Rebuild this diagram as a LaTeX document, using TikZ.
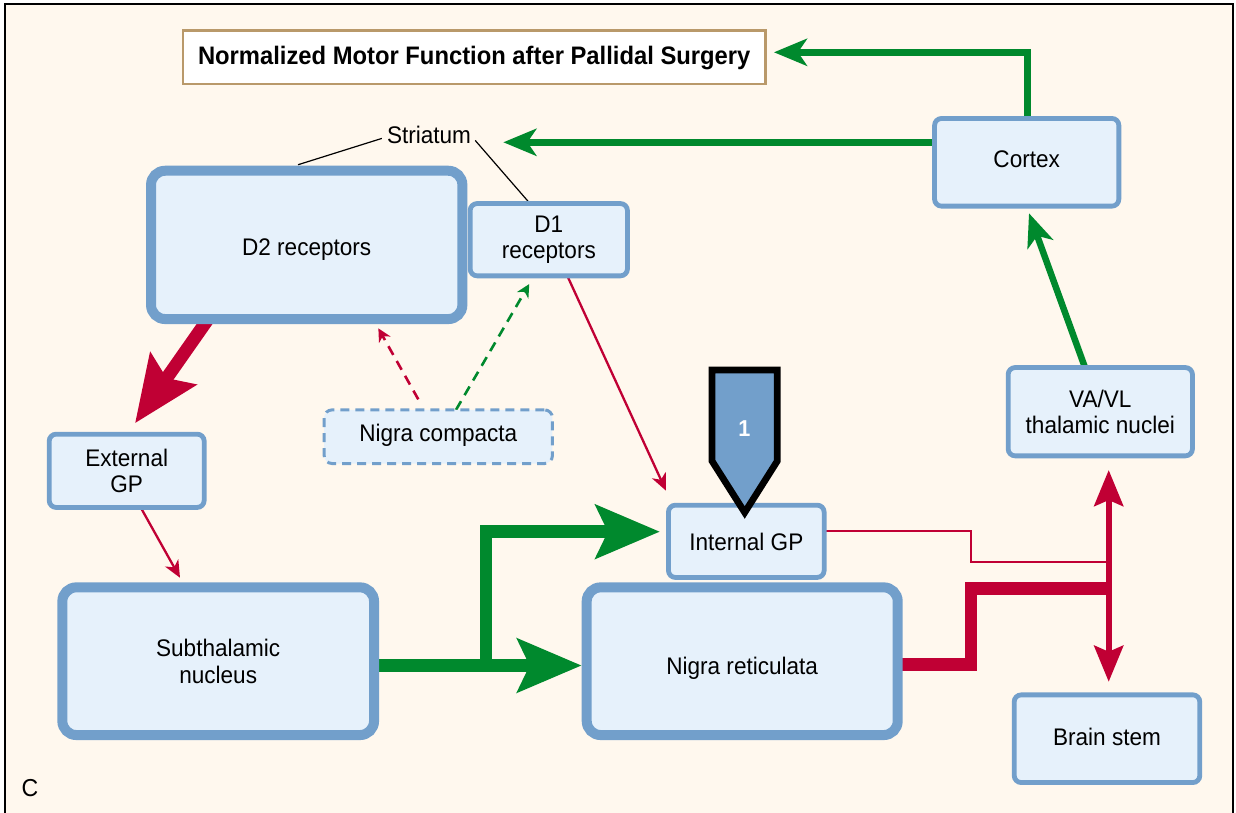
\documentclass[tikz,border=0pt]{standalone}
\usepackage{fontspec}
\setmainfont[FakeStretch=0.94]{Liberation Sans}
\usetikzlibrary{arrows.meta,calc}
\definecolor{cream}{RGB}{255,248,238}
\definecolor{boxfill}{RGB}{230,241,251}
\definecolor{boxline}{RGB}{114,159,203}
\definecolor{dgreen}{RGB}{0,137,45}
\definecolor{dred}{RGB}{192,0,52}
\definecolor{tan}{RGB}{185,153,106}
\pgfdeclarelayer{bg}
\pgfdeclarelayer{conn}
\pgfsetlayers{bg,conn,main}
\newcommand\diafont{\fontsize{24pt}{26.5pt}\selectfont}
\newcommand\ttlfont{\fontsize{25.3pt}{28pt}\selectfont\bfseries}
\tikzset{
  box/.style={draw=boxline, fill=boxfill, line width=4.8pt, rounded corners=7pt,
    outer sep=0pt, inner sep=0pt, align=center, font=\diafont},
  bigbox/.style={box, line width=10pt, rounded corners=14pt},
  dbox/.style={box, line width=3pt, dash pattern=on 9pt off 6pt, rounded corners=8pt},
  titlebox/.style={draw=tan, fill=white, line width=2.5pt, outer sep=0pt, inner sep=0pt, font=\ttlfont},
  oneline/.style={text height=#1, text depth=0pt},
  gbig/.style={draw=dgreen, line width=12.5pt, -{Stealth[length=64pt,width=53pt,inset=12pt]}},
  rbig/.style={draw=dred, line width=13pt, -{Stealth[length=66pt,width=55pt,inset=11pt]}},
  gmed/.style={draw=dgreen, line width=6.5pt, -{Stealth[length=33pt,width=27pt,inset=9pt]}},
  rthin/.style={draw=dred, line width=2.3pt, -{Stealth[length=17pt,width=15pt,inset=5pt]}},
  rdash/.style={draw=dred, line width=2.6pt, dash pattern=on 10pt off 7pt, -{Stealth[length=13pt,width=13pt,inset=4pt]}},
  gdash/.style={draw=dgreen, line width=2.6pt, dash pattern=on 10pt off 7pt, -{Stealth[length=13pt,width=13pt,inset=4pt]}},
  rtick/.style={draw=dred, line width=6pt},
  leader/.style={draw=black, line width=1.2pt}
}
\begin{document}
\begin{tikzpicture}[x=1pt,y=-1pt]
\useasboundingbox (0,0) rectangle (1236,813);
\begin{pgfonlayer}{bg}
  \fill[white] (0,0) rectangle (1236,813);
  \fill[cream] (5,4) rectangle (1233,813);
  \draw[black, line width=2.4pt] (5,813) -- (5,4) -- (1233,4) -- (1233,813);
\end{pgfonlayer}

% nodes
\node[titlebox, minimum width=582.5pt, minimum height=53.3pt, oneline=15.6pt] (title) at (474.2,57.2) {Normalized Motor Function after Pallidal Surgery};
\node[bigbox, minimum width=311.3pt, minimum height=148.3pt, oneline=20.2pt] (d2) at (306.7,244.9) {D2 receptors};
\node[box, minimum width=157.3pt, minimum height=72.3pt] (d1) at (548.8,239.7) {D1\\receptors};
\node[box, minimum width=184.3pt, minimum height=87.7pt, oneline=10.8pt] (cortex) at (1026.7,162.3) {Cortex};
\node[box, minimum width=184.3pt, minimum height=88.3pt] (va) at (1100.3,411.7) {VA/VL\\thalamic nuclei};
\node[box, minimum width=155pt, minimum height=73.3pt] (ext) at (126.7,470.8) {External\\GP};
\node[dbox, minimum width=228.3pt, minimum height=53.7pt, oneline=10pt] (nc) at (438.3,436.7) {Nigra compacta};
\node[box, minimum width=155.7pt, minimum height=72.3pt, oneline=17.4pt] (igp) at (746.3,541.3) {Internal GP};
\node[bigbox, minimum width=311.7pt, minimum height=147.7pt] (sub) at (218.2,661.2) {Subthalamic\\nucleus};
\node[bigbox, minimum width=311pt, minimum height=147.7pt, oneline=25.6pt] (nr) at (742.2,661.2) {Nigra reticulata};
\node[box, minimum width=185.6pt, minimum height=87.7pt, oneline=12.6pt] (bs) at (1107,738.7) {Brain stem};
\node[font=\diafont, inner sep=2pt, anchor=base] (striatum) at (429,144) {Striatum};
\node[font=\fontsize{24.5pt}{28pt}\selectfont, inner sep=0pt, anchor=base west] (clabel) at (21.5,796.7) {C};

% connectors
\begin{pgfonlayer}{conn}
  \draw[leader] ($(d2.north)+(-8.7,-6)$) -- ($(striatum.west)+(-3,3)$);
  \draw[leader] ($(striatum.east)+(2,5)$) -- ($(d1.north)+(-18.8,0)$);
  \draw[gmed] ($(cortex.north)+(0.6,0)$) |- ($(title.east)+(8.5,-4.9)$);
  \draw[gmed] ($(cortex.west)+(0,-20)$) -- ($(cortex.west)+(-431.2,-20)$);
  \draw[gmed] ($(va.north)+(-15.3,0)$) -- ($(cortex.south)+(2.3,7.1)$);
  \draw[rbig] ($(d2.south west)+(57,0)$) -- ($(ext.north)+(8.3,-10.9)$);
  \draw[rthin] ($(ext.south)+(14,0)$) -- ($(sub.north)+(-38.2,-9.6)$);
  \draw[rthin] ($(d1.south)+(18.5,0)$) -- ($(igp.north west)+(-2.5,-14.5)$);
  \draw[rdash] ($(nc.north)+(-20,-10.5)$) -- ($(d2.south east)+(-84,9.3)$);
  \draw[gdash] ($(nc.north)+(17.7,0)$) -- ($(d1.south west)+(59.1,8.2)$);
  \coordinate (br) at ($(sub.east)+(112,4.3)$);
  \draw[gbig] ($(sub.east)+(0,4.3)$) -- ($(nr.west)+(-5,4.3)$);
  \draw[gbig] (br) |- ($(igp.west)+(-8.5,-9.6)$);
  \coordinate (vtop) at ($(va.south)+(8.4,14.2)$);
  \coordinate (vbot) at ($(bs.north)+(1.7,-13.1)$);
  \draw[draw=dred, line width=2.2pt] ($(igp.east)+(0,-10.3)$) -- ++(146.5,0) -- ++(0,31) -- ++(138,0);
  \draw[draw=dred, line width=12.5pt] ($(nr.east)+(0,3.3)$) -- ++(73.1,0) -- ++(0,-76.2) -- ++(140.9,0);
  \draw[rtick, {Stealth[length=36pt,width=29pt,inset=6pt]}-{Stealth[length=36pt,width=29pt,inset=6pt]}] (vbot) -- (vtop);
\end{pgfonlayer}

% lesion marker
\draw[fill=boxline, draw=black, line width=6.7pt] (712,370) -- (777.3,370) -- (777.3,461) -- (744.7,512.5) -- (712,461) -- cycle;
\node[font=\fontsize{23pt}{26pt}\selectfont\bfseries, text=white, inner sep=0pt] (one) at (744.5,428.3) {1};
\end{tikzpicture}
\end{document}
